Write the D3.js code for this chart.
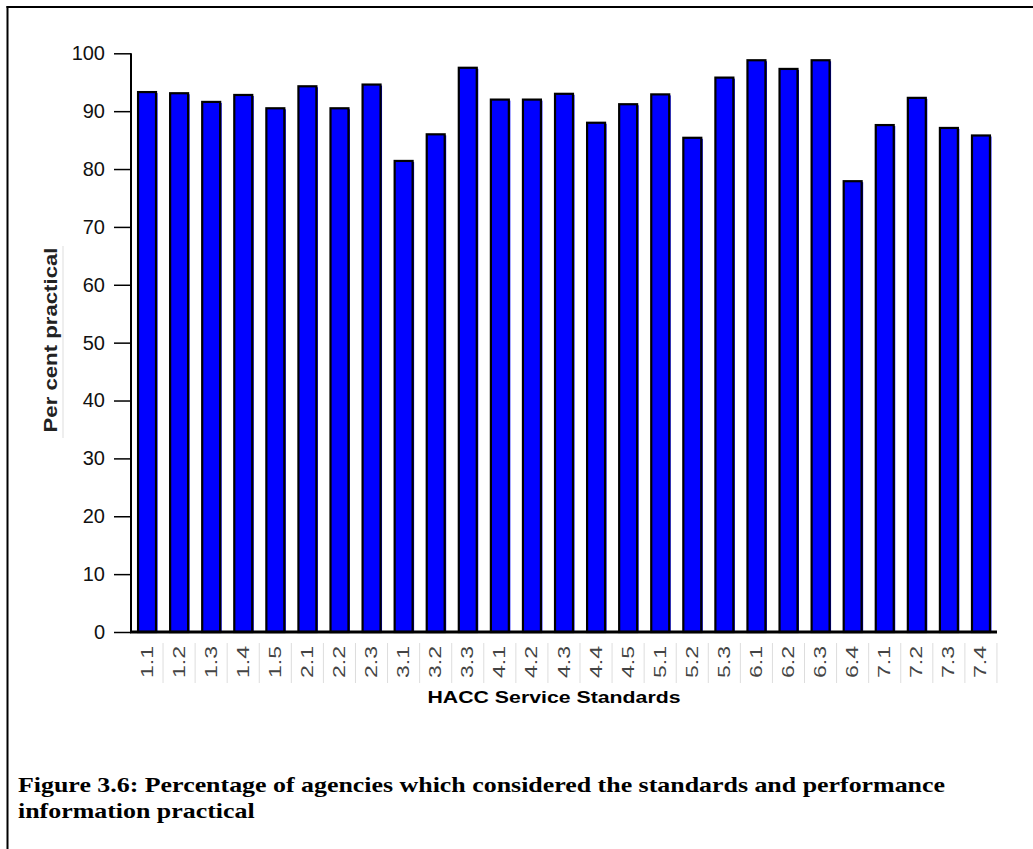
<!DOCTYPE html>
<html><head><meta charset="utf-8">
<script src="https://cdn.jsdelivr.net/npm/d3@7"></script>
<style>body{margin:0;background:#fff}</style>
</head><body>
<svg id="c" width="1033" height="849"></svg>
<script>
const categories = ["1.1","1.2","1.3","1.4","1.5","2.1","2.2","2.3","3.1","3.2","3.3","4.1","4.2","4.3","4.4","4.5","5.1","5.2","5.3","6.1","6.2","6.3","6.4","7.1","7.2","7.3","7.4"];
const values = [93.3,93.1,91.6,92.8,90.5,94.3,90.5,94.6,81.4,86.0,97.5,92.0,92.0,93.0,88.0,91.2,92.9,85.4,95.8,98.8,97.3,98.8,77.9,87.6,92.3,87.1,85.8];
const yTicks = [0,10,20,30,40,50,60,70,80,90,100];
const xTitle = "HACC Service Standards";
const yTitle = "Per cent practical";
const captionLines = ["Figure 3.6: Percentage of agencies which considered the standards and performance","information practical"];

const svg = d3.select("#c");
const x0 = 131, x1 = 997, yTop = 53.3, yBot = 632;
const x = d3.scaleBand().domain(categories).range([x0, x1]).paddingInner(0.44).paddingOuter(0.22);
const y = d3.scaleLinear().domain([0,100]).range([yBot, yTop]);
const sans = "Liberation Sans, Arial, sans-serif";

// frame (left + top)
svg.append("line").attr("x1",7.5).attr("x2",7.5).attr("y1",6).attr("y2",849).attr("stroke","#000").attr("stroke-width",2);
svg.append("line").attr("x1",6.5).attr("x2",1033).attr("y1",7).attr("y2",7).attr("stroke","#000").attr("stroke-width",2);

// bars
const g = svg.append("g");
g.selectAll("rect.sh").data(values).join("rect").attr("class","sh")
  .attr("x",(d,i)=>x(categories[i])+1.5).attr("y",d=>y(d)+1)
  .attr("width",x.bandwidth()).attr("height",d=>yBot-y(d)-1)
  .attr("fill","#0000ff");
g.selectAll("rect.b").data(values).join("rect").attr("class","b")
  .attr("x",(d,i)=>x(categories[i])).attr("y",d=>y(d))
  .attr("width",x.bandwidth()).attr("height",d=>yBot-y(d))
  .attr("fill","#0000ff").attr("stroke","#000").attr("stroke-width",2.2);

// y axis
const ya = svg.append("g").attr("transform",`translate(${x0},0)`)
  .call(d3.axisLeft(y).tickValues(yTicks).tickSize(17).tickPadding(9));
ya.select(".domain").attr("stroke","#000").attr("stroke-width",2).attr("d",`M-0,${yTop}V${yBot}`);
ya.selectAll(".tick line").attr("stroke","#000").attr("stroke-width",1.5);
ya.selectAll(".tick text").attr("font-family",sans).attr("font-size",20).attr("fill","#111");

// x axis line
svg.append("line").attr("x1",x0-1).attr("x2",x1).attr("y1",yBot).attr("y2",yBot).attr("stroke","#000").attr("stroke-width",3);

// x labels
const xl = svg.append("g");
categories.forEach((c,i)=>{
  const cx = x(c)+x.bandwidth()/2;
  xl.append("text").attr("transform",`translate(${cx+5.5},${662}) rotate(-90)`)
    .attr("text-anchor","middle").attr("font-family",sans)
    .attr("font-size",16).attr("fill","#444")
    .attr("textLength",32).attr("lengthAdjust","spacingAndGlyphs").text(c);
  xl.append("line").attr("x1",cx+16).attr("x2",cx+16).attr("y1",643).attr("y2",683)
    .attr("stroke","#ddd").attr("stroke-width",1);
});

// titles
svg.append("text").attr("x",554).attr("y",703).attr("text-anchor","middle")
  .attr("font-family",sans).attr("font-weight","bold")
  .attr("font-size",17).attr("fill","#000")
  .attr("textLength",253).attr("lengthAdjust","spacingAndGlyphs").text(xTitle);
svg.append("text").attr("transform","translate(57,340) rotate(-90)").attr("text-anchor","middle")
  .attr("font-family",sans).attr("font-weight","bold")
  .attr("font-size",18).attr("fill","#222")
  .attr("textLength",185).attr("lengthAdjust","spacingAndGlyphs").text(yTitle);
svg.append("line").attr("x1",63).attr("x2",63).attr("y1",246).attr("y2",438).attr("stroke","#ddd").attr("stroke-width",1);

// caption
const cap = svg.append("g");
captionLines.forEach((t,i)=>{
  cap.append("text").attr("x",18).attr("y",792+i*26)
    .attr("font-family","Liberation Serif, Times New Roman, serif").attr("font-weight","bold")
    .attr("font-size",21).attr("fill","#000").text(t);
});
const first = cap.select("text").node();
const ratio = 927 / first.getComputedTextLength();
cap.selectAll("text").each(function(){
  const w = this.getComputedTextLength();
  d3.select(this).attr("textLength", w*ratio).attr("lengthAdjust","spacingAndGlyphs");
});
</script>
</body></html>
